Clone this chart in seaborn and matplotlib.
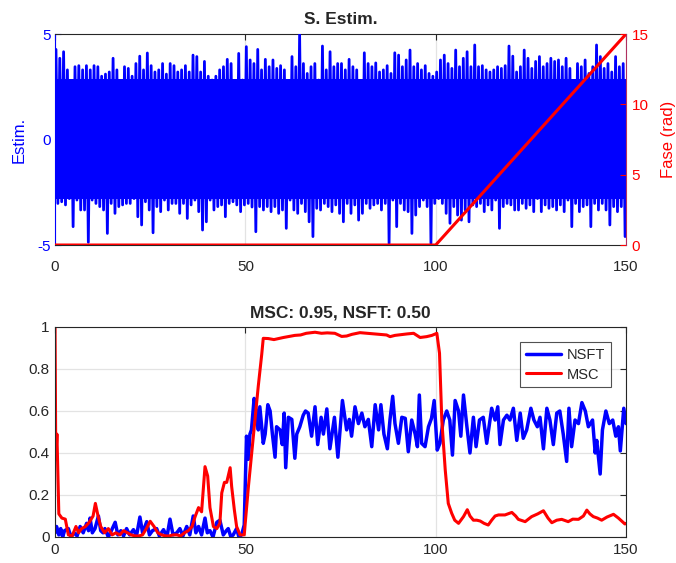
import numpy as np
import pandas as pd
import matplotlib
matplotlib.use("Agg")
import matplotlib.pyplot as plt
import seaborn as sns

sns.set_style("white")
plt.rcParams["font.family"] = ["Liberation Sans", "DejaVu Sans"]
plt.rcParams["axes.unicode_minus"] = False

# ---------------------------------------------------------------------------
# Estimated signal: per-unit-time extremes (max / min inside each 1 s bin)
# ---------------------------------------------------------------------------
signal_peak_hi = [
    4.27, 3.85, 4.16, 3.3, 2.8, 3.45, 3.5, 3.3, 3.5, 3.3,
    3.5, 3.45, 3.0, 3.1, 3.2, 3.85, 3.3, 2.4, 3.45, 3.37,
    3.0, 3.6, 3.95, 3.3, 4.1, 3.5, 3.2, 3.3, 3.6, 3.1,
    3.6, 3.5, 3.2, 3.3, 3.5, 3.2, 4.0, 3.93, 3.2, 3.7,
    3.0, 2.82, 3.0, 3.3, 3.45, 3.8, 3.6, 2.66, 4.08, 2.82,
    4.4, 3.77, 3.6, 4.27, 3.3, 3.8, 3.45, 3.77, 3.37, 3.5,
    3.3, 2.74, 3.93, 3.45, 5.0, 3.6, 3.13, 3.45, 3.6, 2.82,
    4.43, 3.3, 4.16, 3.45, 3.6, 3.6, 3.3, 3.8, 3.45, 3.3,
    2.66, 4.11, 3.6, 3.45, 3.63, 3.2, 3.3, 3.5, 3.13, 4.11,
    4.0, 3.45, 3.77, 4.24, 3.45, 3.6, 3.3, 3.5, 3.13, 3.0,
    3.2, 3.77, 4.0, 3.6, 3.37, 4.24, 3.45, 3.85, 4.16, 3.45,
    4.48, 3.45, 3.5, 3.3, 3.2, 3.3, 3.45, 3.37, 3.5, 4.43,
    3.95, 3.2, 3.45, 4.24, 3.85, 3.37, 3.7, 3.93, 3.45, 3.6,
    3.85, 3.7, 3.77, 3.45, 3.85, 3.37, 2.74, 3.6, 3.45, 3.77,
    3.13, 3.45, 4.48, 3.93, 3.37, 3.6, 3.2, 3.93, 3.45, 3.6,
]
signal_peak_lo = [
    -3.03, -2.95, -3.1, -2.8, -4.13, -2.87, -3.34, -3.34, -4.87, -2.87,
    -3.03, -3.18, -3.34, -4.45, -3.03, -3.5, -3.18, -3.1, -3.03, -3.03,
    -2.8, -3.66, -4.05, -2.95, -3.34, -4.42, -3.18, -3.42, -2.87, -3.34,
    -3.03, -3.03, -3.5, -3.03, -3.74, -3.1, -2.87, -3.42, -4.29, -3.9,
    -2.87, -3.34, -3.18, -3.1, -3.66, -3.03, -2.95, -3.1, -3.42, -3.1,
    -3.03, -3.2, -4.37, -3.18, -3.34, -3.18, -3.42, -3.18, -3.5, -3.34,
    -4.21, -2.87, -3.34, -3.5, -3.03, -3.42, -3.9, -4.6, -3.26, -3.34,
    -3.03, -3.18, -3.42, -3.1, -3.5, -3.9, -3.03, -3.5, -3.1, -3.82,
    -3.5, -3.03, -3.26, -3.1, -3.03, -3.34, -3.03, -4.92, -2.87, -4.13,
    -3.03, -3.34, -3.42, -4.45, -3.58, -3.18, -2.87, -3.18, -4.92, -3.03,
    -2.8, -3.03, -3.5, -3.97, -3.18, -3.58, -3.82, -3.34, -3.9, -3.1,
    -3.18, -3.03, -3.42, -3.1, -3.34, -2.87, -4.21, -3.18, -3.03, -3.1,
    -3.34, -3.34, -3.03, -3.26, -3.1, -3.42, -2.8, -3.42, -3.1, -3.26,
    -3.18, -3.34, -3.1, -3.42, -2.87, -4.13, -3.03, -3.42, -3.18, -3.1,
    -4.13, -3.03, -3.34, -3.03, -3.34, -4.05, -3.18, -3.42, -3.18, -4.6,
]
# level that the dense signal fills almost everywhere
band_core_lo = -2.8
band_core_hi = 2.85

# phase (rad)
phase_t = [0, 100, 150]
phase_v = [0, 0, 15]

# ---------------------------------------------------------------------------
# Detection statistics
# ---------------------------------------------------------------------------
nsft_t = [
    0, 0.4, 1, 1.5, 2, 2.5, 3.5, 4.2, 5, 5.8, 6.6, 7.4, 8.3, 8.8, 9.2, 9.8,
    10.5, 11.4, 12, 12.6, 13.1, 14, 14.8, 15.8, 16.5, 17.3, 18, 18.8, 19.6,
    20.6, 21.4, 22.3, 23, 24.1, 24.8, 25.6, 26.7, 27.4, 28.5, 29.4, 30.2, 31,
    32, 32.8, 33.6, 34.6, 35.4, 36.3, 37, 37.7, 38.5, 39.4, 40, 40.7, 41.5,
    42.5, 43.3, 44.2, 45, 45.5, 46.2, 46.8, 47.7, 48.3, 49, 49.7, 50.3, 50.8,
    51.2, 51.6, 52.3, 52.9, 53.4, 53.8, 54.3, 54.7, 55.2, 55.9, 56.5, 57.1,
    57.8, 58.2, 59.1, 59.7, 60.2, 60.6, 61.3, 62.2, 63, 63.5, 64.3, 65.2,
    65.8, 66.5, 67.4, 68.3, 69, 69.9, 70.5, 71.4, 72.2, 73.4, 74.3, 75.5,
    76.6, 77.3, 77.9, 78.8, 79.7, 80.6, 81.4, 82.3, 83.2, 84.1, 85, 85.6,
    86.4, 87.3, 88, 88.7, 89.3, 90.2, 91.1, 92, 92.8, 93.7, 94.6, 95.2, 95.7,
    96.3, 97.2, 98.1, 98.9, 99.6, 100.4, 101.1, 102, 102.9, 103.7, 104.4,
    105.1, 106, 106.6, 107.3, 108.2, 109, 109.9, 110.6, 111.5, 112.5, 113.4,
    114.7, 115.6, 116.3, 116.9, 117.8, 118.7, 119.5, 120.4, 121.3, 122.2,
    123, 123.9, 125, 125.8, 126.7, 127.4, 128.3, 129.2, 130, 130.9, 131.8,
    132.6, 133.5, 134.4, 135, 135.7, 136.6, 137.5, 138.4, 139.3, 140.1,
    141.2, 141.9, 142.3, 143.2, 143.8, 144.7, 145.6, 146.5, 147.3, 148,
    148.5, 149.4, 150,
]
nsft_v = [
    0.02, 0.05, 0.01, 0.04, 0.0, 0.03, 0.04, 0.0, 0.02, 0.005, 0.05, 0.02,
    0.065, 0.03, 0.09, 0.02, 0.04, 0.1, 0.03, 0.02, 0.04, 0.0, 0.03, 0.07,
    0.01, 0.03, 0.005, 0.04, 0.01, 0.035, 0.005, 0.095, 0.02, 0.073, 0.01,
    0.03, 0.04, 0.005, 0.035, 0.0, 0.085, 0.01, 0.02, 0.04, 0.005, 0.05,
    0.01, 0.1, 0.02, 0.05, 0.01, 0.09, 0.02, 0.03, 0.0, 0.07, 0.08, 0.01,
    0.03, 0.04, 0.0, 0.01, 0.04, 0.0, 0.01, 0.057, 0.48, 0.37, 0.49, 0.51,
    0.66, 0.6, 0.51, 0.62, 0.525, 0.446, 0.49, 0.63, 0.6, 0.49, 0.38, 0.525,
    0.51, 0.44, 0.59, 0.33, 0.57, 0.56, 0.375, 0.49, 0.525, 0.58, 0.6, 0.59,
    0.48, 0.62, 0.44, 0.57, 0.49, 0.61, 0.42, 0.57, 0.38, 0.65, 0.51, 0.56,
    0.48, 0.62, 0.54, 0.59, 0.525, 0.56, 0.43, 0.63, 0.51, 0.63, 0.49, 0.42,
    0.56, 0.67, 0.54, 0.446, 0.57, 0.565, 0.406, 0.557, 0.49, 0.43, 0.676,
    0.446, 0.43, 0.525, 0.565, 0.65, 0.414, 0.446, 0.557, 0.6, 0.557, 0.39,
    0.65, 0.6, 0.48, 0.676, 0.525, 0.4, 0.57, 0.43, 0.557, 0.57, 0.446,
    0.613, 0.557, 0.62, 0.44, 0.557, 0.58, 0.557, 0.613, 0.46, 0.59, 0.47,
    0.51, 0.613, 0.557, 0.525, 0.57, 0.42, 0.613, 0.557, 0.44, 0.59, 0.6,
    0.49, 0.36, 0.613, 0.43, 0.557, 0.54, 0.64, 0.6, 0.525, 0.557, 0.4,
    0.46, 0.3, 0.51, 0.6, 0.54, 0.557, 0.48, 0.525, 0.41, 0.613, 0.54,
]
msc_t = [
    0, 0.2, 0.5, 1.0, 1.8, 2.7, 3.5, 4.5, 5.5, 6.2, 7, 8, 9, 10, 10.6, 11.3,
    12, 13, 14, 15, 16, 17, 18, 19, 20, 21, 22, 23, 24, 25, 26, 27, 28, 29,
    30, 31, 32, 33, 34, 35, 36, 36.8, 37.7, 38.5, 39.4, 40.1, 40.7, 41.6,
    42.5, 43.3, 43.8, 44.5, 45.1, 46, 46.4, 47.1, 47.7, 48.6, 49.7, 50.8,
    52.1, 53.4, 54.3, 54.7, 56, 57.5, 58.7, 60, 61.5, 63, 64.5, 66, 68.3, 70,
    71.5, 73.5, 75.3, 76.6, 78, 80.1, 82, 83.6, 85.5, 87.1, 88, 89.3, 90.6,
    92.5, 94.2, 95.9, 97.6, 99, 100.3, 101, 101.6, 102.5, 103.3, 104.2, 105,
    106, 107.3, 108.3, 109, 109.9, 110.8, 111.7, 112.7, 113.8, 114.7, 115.6,
    116.5, 118.2, 120, 121, 121.7, 123.5, 125.2, 126.8, 128.3, 129.5, 130.5,
    131.8, 133.1, 134.8, 136, 137.5, 138.8, 139.7, 140.5, 141.4, 142.5,
    143.6, 145, 146.7, 148, 149.7, 150,
]
msc_v = [
    1.0, 0.37, 0.49, 0.11, 0.09, 0.085, 0.01, 0.005, 0.05, 0.02, 0.04, 0.05,
    0.07, 0.1, 0.16, 0.1, 0.05, 0.02, 0.04, 0.01, 0.02, 0.01, 0.03, 0.02,
    0.01, 0.005, 0.005, 0.01, 0.04, 0.075, 0.05, 0.02, 0.01, 0.005, 0.005,
    0.01, 0.01, 0.005, 0.02, 0.03, 0.05, 0.097, 0.14, 0.12, 0.335, 0.29,
    0.14, 0.05, 0.04, 0.065, 0.21, 0.26, 0.26, 0.33, 0.24, 0.13, 0.05, 0.01,
    0.01, 0.24, 0.48, 0.72, 0.87, 0.946, 0.945, 0.94, 0.945, 0.95, 0.955,
    0.96, 0.962, 0.97, 0.975, 0.97, 0.972, 0.97, 0.955, 0.957, 0.965, 0.973,
    0.97, 0.967, 0.965, 0.962, 0.954, 0.96, 0.963, 0.967, 0.97, 0.95, 0.954,
    0.96, 0.97, 0.875, 0.557, 0.32, 0.16, 0.113, 0.08, 0.065, 0.097, 0.13,
    0.1, 0.08, 0.08, 0.076, 0.065, 0.057, 0.08, 0.1, 0.105, 0.105, 0.117,
    0.1, 0.084, 0.073, 0.097, 0.11, 0.125, 0.09, 0.068, 0.08, 0.084, 0.073,
    0.085, 0.084, 0.1, 0.128, 0.11, 0.097, 0.09, 0.08, 0.095, 0.108, 0.09,
    0.062, 0.065,
]

x_ticks = [0, 50, 100, 150]
est_ticks = [-5, 0, 5]
phase_ticks = [0, 5, 10, 15]
stat_ticks = [0, 0.2, 0.4, 0.6, 0.8, 1]

AX_GRAY = "#262626"
GRID = "#e3e3e3"
TICK_FS = 11
LABEL_FS = 12
TITLE_FS = 12.5

fig = plt.figure(figsize=(6.76, 5.63), dpi=100)
ax1 = fig.add_axes([0.0814, 0.5648, 0.8447, 0.3748])
ax2 = fig.add_axes([0.0814, 0.0462, 0.8447, 0.3730])

# ---------------- top panel: estimated signal and phase ----------------
bins = np.arange(len(signal_peak_hi))
sig = pd.DataFrame({
    "t": np.column_stack([bins + 0.25, bins + 0.75]).ravel(),
    "v": np.column_stack([signal_peak_hi, signal_peak_lo]).ravel(),
})
ax1.fill_between([0, 150], band_core_lo, band_core_hi, color="blue", lw=0, zorder=2)
sns.lineplot(data=sig, x="t", y="v", ax=ax1, color="blue", lw=2.0,
             sort=False, estimator=None, zorder=3)
ax1.set_xlim(0, 150)
ax1.set_ylim(-5, 5)
ax1.set_xticks(x_ticks)
ax1.set_yticks(est_ticks)
ax1.set_xlabel("")
ax1.set_ylabel("Estim.", color="blue", fontsize=LABEL_FS, labelpad=8)
ax1.grid(axis="x", color=GRID, lw=0.9)
ax1.set_axisbelow(True)
ax1.tick_params(axis="x", direction="in", length=4, top=True,
                labelsize=TICK_FS, colors=AX_GRAY, pad=11)
ax1.tick_params(axis="y", direction="in", length=4, labelsize=TICK_FS,
                colors="blue", pad=3)
for s in ("top", "bottom"):
    ax1.spines[s].set_color(AX_GRAY)
    ax1.spines[s].set_linewidth(0.8)
ax1.spines["left"].set_color("blue")
ax1.spines["left"].set_linewidth(0.8)
ax1.spines["right"].set_visible(False)
ax1.set_title("S. Estim.", fontweight="bold", fontsize=TITLE_FS, pad=7)

ax1r = ax1.twinx()
sns.lineplot(x=phase_t, y=phase_v, ax=ax1r, color="red", lw=2.2)
ax1r.set_ylim(0, 15)
ax1r.set_xlim(0, 150)
ax1r.set_yticks(phase_ticks)
ax1r.set_ylabel("Fase (rad)", color="red", fontsize=LABEL_FS, labelpad=9)
ax1r.tick_params(axis="y", direction="in", length=4, labelsize=TICK_FS,
                 colors="red", pad=4)
for s in ("left", "top", "bottom"):
    ax1r.spines[s].set_visible(False)
ax1r.spines["right"].set_color("#b03060")
ax1r.spines["right"].set_linewidth(0.8)

# ---------------- bottom panel: NSFT and MSC ----------------
sns.lineplot(x=nsft_t, y=nsft_v, ax=ax2, color="blue", lw=2.5,
             label="NSFT", sort=False, estimator=None)
sns.lineplot(x=msc_t, y=msc_v, ax=ax2, color="red", lw=2.2,
             label="MSC", sort=False, estimator=None)
ax2.set_xlim(0, 150)
ax2.set_ylim(0, 1)
ax2.set_xticks(x_ticks)
ax2.set_yticks(stat_ticks)
ax2.set_yticklabels([f"{v:g}" for v in stat_ticks])
ax2.grid(True, color=GRID, lw=0.9)
ax2.set_axisbelow(True)
ax2.tick_params(direction="in", length=4, top=True, right=True,
                labelsize=TICK_FS, colors=AX_GRAY, pad=4)
for s in ax2.spines.values():
    s.set_color(AX_GRAY)
    s.set_linewidth(0.8)
ax2.set_title("MSC: 0.95, NSFT: 0.50", fontweight="bold", fontsize=TITLE_FS, pad=7)
leg = ax2.legend(loc="upper right", bbox_to_anchor=(0.974, 0.929),
                 borderaxespad=0, frameon=True, fancybox=False,
                 edgecolor=AX_GRAY, fontsize=10.5, handlelength=2.4,
                 borderpad=0.4, labelspacing=0.4, handletextpad=0.4)
leg.get_frame().set_linewidth(0.8)

fig.savefig("out.png", dpi=100)
